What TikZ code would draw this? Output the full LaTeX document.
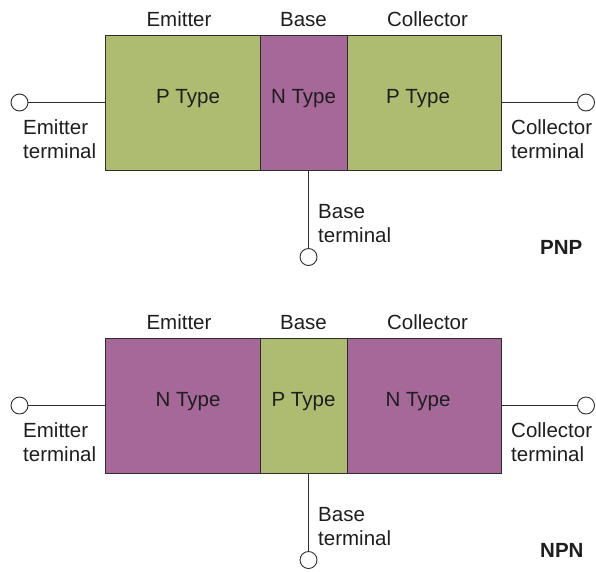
\documentclass[tikz,border=0pt]{standalone}
\usepackage{fontspec}
\setmainfont{Liberation Sans}
\definecolor{ptype}{RGB}{173,188,112}
\definecolor{ntype}{RGB}{165,104,153}
\definecolor{edge}{RGB}{45,45,45}
\definecolor{ink}{RGB}{30,30,30}
\begin{document}
\begin{tikzpicture}[x=1pt,y=-1pt,
  region/.style={draw=edge, line width=1.1pt, rectangle, inner sep=0pt,
                 minimum height=135pt, anchor=north west},
  term/.style={draw=edge, line width=0.9pt, fill=white, circle,
               inner sep=0pt, minimum size=17pt},
  wire/.style={draw=edge, line width=0.9pt},
  txt/.style={font=\fontsize{20.5}{24}\selectfont, text=ink, inner sep=0pt},
  mid/.style={txt, anchor=base},
  lft/.style={txt, anchor=base west},
  kind/.style={txt, anchor=base west, font=\fontsize{20.5}{24}\selectfont\bfseries}]
\useasboundingbox (0,0) rectangle (596,571);

\foreach \oy/\outer/\inner/\o/\i/\kindname in
    {0/ptype/ntype/P/N/PNP, 303/ntype/ptype/N/P/NPN}{
  \begin{scope}[shift={(0,\oy)}]
    % the three doped regions
    \node[region, fill=\outer, minimum width=155pt] (em\kindname) at (105,35) {};
    \node[region, fill=\inner, minimum width=87pt]  (bs\kindname) at (260,35) {};
    \node[region, fill=\outer, minimum width=154pt] (co\kindname) at (347,35) {};

    % region names above
    \node[mid] (hE\kindname) at (179,26)   {Emitter};
    \node[mid] (hB\kindname) at (303.5,26) {Base};
    \node[mid] (hC\kindname) at (427.5,26) {Collector};

    % doping type inside
    \node[mid] (dE\kindname) at (188,103.5)   {\o\ Type};
    \node[mid] (dB\kindname) at (303.5,103.5) {\i\ Type};
    \node[mid] (dC\kindname) at (418,103.5)   {\o\ Type};

    % terminals
    \node[term] (tE\kindname) at (19.5,102.5) {};
    \node[term] (tC\kindname) at (586,102.5)  {};
    \node[term] (tB\kindname) at (308.5,257)  {};

    \draw[wire] (tE\kindname.east) -- (tE\kindname.east -| em\kindname.west);
    \draw[wire] (tC\kindname.west) -- (tC\kindname.west -| co\kindname.east);
    \draw[wire] (tB\kindname.north) -- (tB\kindname.north |- bs\kindname.south);

    % terminal labels
    \node[lft] (lE1\kindname) at (23,134)  {Emitter};
    \node[lft] (lE2\kindname) at (23,158)  {terminal};
    \node[lft] (lC1\kindname) at (511,134) {Collector};
    \node[lft] (lC2\kindname) at (511,158) {terminal};
    \node[lft] (lB1\kindname) at (318,218) {Base};
    \node[lft] (lB2\kindname) at (318,242) {terminal};

    % transistor type
    \node[kind] (k\kindname) at (540,254) {\kindname};
  \end{scope}
}
\end{tikzpicture}
\end{document}
